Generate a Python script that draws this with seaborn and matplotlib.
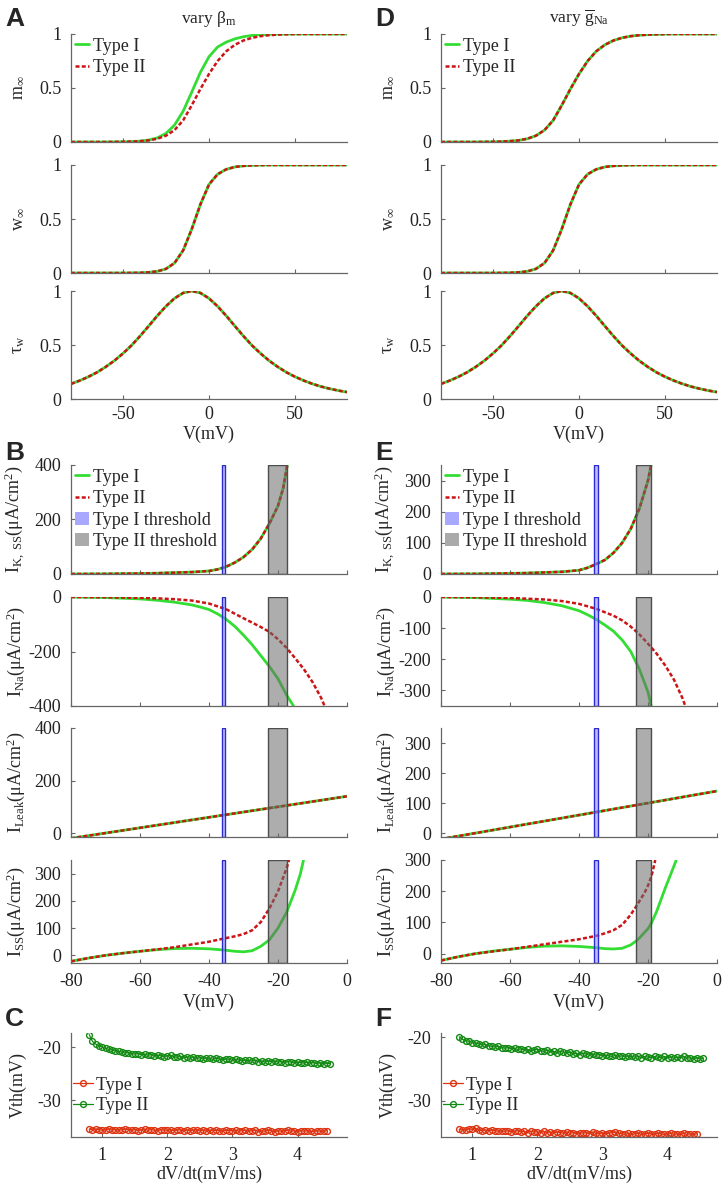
import matplotlib
matplotlib.use('Agg')
import matplotlib.pyplot as plt
from matplotlib.lines import Line2D
from matplotlib.patches import Patch
import seaborn as sns

# ---------------- data ----------------
# A / D : gating curves vs V (mV)
V_A = [-80, -75, -70, -65, -60, -55, -50, -45, -40, -35, -30, -25, -20, -15, -10, -5,
       0, 5, 10, 15, 20, 25, 30, 35, 40, 45, 50, 55, 60, 65, 70, 75, 80]
m_inf_I = [0.000, 0.000, 0.000, 0.000, 0.000, 0.001, 0.002, 0.004, 0.008, 0.018, 0.038, 0.079,
           0.156, 0.285, 0.462, 0.645, 0.790, 0.880, 0.925, 0.955, 0.975, 0.987, 0.994, 0.997,
           0.999, 1.0, 1.0, 1.0, 1.0, 1.0, 1.0, 1.0, 1.0]
m_inf_II = [0.000, 0.000, 0.000, 0.000, 0.000, 0.001, 0.002, 0.004, 0.008, 0.015, 0.030, 0.058,
            0.110, 0.200, 0.340, 0.490, 0.630, 0.750, 0.840, 0.900, 0.940, 0.965, 0.980, 0.989,
            0.994, 0.997, 0.999, 1.0, 1.0, 1.0, 1.0, 1.0, 1.0]
w_inf = [0.000, 0.000, 0.000, 0.000, 0.000, 0.000, 0.000, 0.001, 0.002, 0.006, 0.015, 0.038,
         0.092, 0.209, 0.406, 0.635, 0.820, 0.915, 0.960, 0.982, 0.992, 0.997, 0.999, 1.0,
         1.0, 1.0, 1.0, 1.0, 1.0, 1.0, 1.0, 1.0, 1.0]
tau_w = [0.140, 0.170, 0.205, 0.246, 0.296, 0.353, 0.420, 0.495, 0.582, 0.675, 0.770, 0.858,
         0.932, 0.982, 1.000, 0.982, 0.932, 0.858, 0.770, 0.675, 0.582, 0.495, 0.420, 0.353,
         0.296, 0.246, 0.205, 0.170, 0.140, 0.115, 0.095, 0.078, 0.064]

# B : vary beta_m
V_IK_B = [-80, -70, -60, -55, -50, -45, -40, -37.5, -35, -32.5, -30, -27.5, -25, -22.5, -20, -18.5, -17.3]
IK_B = [0, 0.5, 2, 3, 5, 7, 11, 17, 27, 42, 62, 90, 130, 185, 250, 315, 400]
V_INa_I_B = [-80, -70, -60, -55, -50, -45, -42.5, -40, -37.5, -35, -32.5, -30, -27.5, -25, -22.5, -20, -17.5, -15.5]
INa_I_B = [0, -2, -7, -12, -19, -29, -37, -46, -62, -82, -108, -140, -175, -215, -255, -300, -360, -400]
V_INa_II_B = [-80, -70, -60, -55, -50, -45, -40, -35, -30, -25, -22.5, -20, -17.5, -15, -12.5, -10, -7.5, -6.5]
INa_II_B = [0, -1, -3, -5, -8, -13, -24, -45, -78, -110, -128, -155, -187, -225, -265, -312, -370, -400]
V_leak = [-80, 0]
I_leak = [-20, 140]
V_Iss_I_B = [-80, -75, -70, -65, -60, -55, -50, -45, -40, -36, -32.5, -30, -27.5, -25, -22.5, -20, -17.5, -15, -13.5, -12.6]
Iss_I_B = [-22, -10, 0, 8, 15, 21, 25, 26, 24, 20, 15, 13, 17, 33, 57, 100, 158, 240, 300, 350]
V_Iss_II_B = [-80, -75, -70, -65, -60, -55, -50, -45, -40, -36, -32.5, -30, -27.5, -25, -22.5, -20, -17.5, -16.8]
Iss_II_B = [-22, -10, 0, 8, 15, 22, 30, 40, 50, 61, 70, 78, 92, 122, 172, 235, 320, 350]
thr_I_B = [-36.3, -35.5]
thr_II_B = [-22.9, -17.5]

# E : vary g_Na
V_IK_E = [-80, -70, -60, -55, -50, -45, -40, -37.5, -35, -32.5, -30, -27.5, -25, -22.5, -20, -19.1]
IK_E = [0, 0.5, 2, 3, 5, 7, 12, 20, 32, 45, 68, 100, 145, 210, 300, 350]
V_INa_I_E = [-80, -70, -60, -55, -50, -45, -40, -37.5, -35, -32.5, -30, -27.5, -25, -22.5, -20, -19.1]
INa_I_E = [0, -2, -7, -11, -18, -28, -44, -57, -72, -90, -110, -138, -175, -232, -305, -350]
V_INa_II_E = [-80, -70, -60, -50, -45, -40, -35, -30, -27.5, -25, -22.5, -20, -17.5, -15, -12.5, -10, -9.2]
INa_II_E = [0, -1, -3, -8, -13, -22, -38, -60, -75, -95, -120, -150, -182, -220, -265, -325, -350]
V_Iss_I_E = [-80, -75, -70, -65, -60, -55, -50, -45, -40, -35, -32.5, -30, -27.5, -25, -23.5, -22.5,
             -20, -19, -17.5, -15, -12.5, -11.8]
Iss_I_E = [-22, -10, 0, 8, 14, 20, 24, 25, 23, 19, 16, 15, 17, 28, 40, 50, 80, 98, 135, 210, 280, 300]
V_Iss_II_E = [-80, -75, -70, -65, -60, -55, -50, -45, -40, -35, -32.5, -30, -27.5, -25, -23.5, -22.5,
              -21, -20, -19, -18.4, -17.9]
Iss_II_E = [-22, -10, 0, 7, 14, 22, 30, 38, 46, 57, 65, 75, 92, 125, 150, 168, 195, 218, 248, 275, 300]
thr_I_E = [-35.6, -34.6]
thr_II_E = [-23.4, -19.0]

# C / F : threshold voltage vs dV/dt
dvdt = [0.80, 0.85, 0.90, 0.95, 1.00, 1.05, 1.10, 1.15, 1.20, 1.25, 1.30, 1.35, 1.40, 1.45, 1.50,
        1.55, 1.60, 1.65, 1.70, 1.75, 1.80, 1.85, 1.90, 1.95, 2.00, 2.05, 2.10, 2.15, 2.20, 2.25,
        2.30, 2.35, 2.40, 2.45, 2.50, 2.55, 2.60, 2.65, 2.70, 2.75, 2.80, 2.85, 2.90, 2.95, 3.00,
        3.05, 3.10, 3.15, 3.20, 3.25, 3.30, 3.35, 3.40, 3.45, 3.50, 3.55, 3.60, 3.65, 3.70, 3.75,
        3.80, 3.85, 3.90, 3.95, 4.00, 4.05, 4.10, 4.15, 4.20, 4.25, 4.30, 4.35, 4.40, 4.45, 4.50, 4.55]
vth_II_C = [-17.6, -18.9, -19.4, -19.7, -20.0, -20.2, -20.4, -20.5, -20.7, -20.8, -20.9, -21.1, -21.0,
            -21.2, -21.3, -21.2, -21.4, -21.3, -21.5, -21.4, -21.7, -21.5, -21.6, -21.8, -21.6, -21.5,
            -21.8, -21.9, -21.7, -22.0, -21.9, -22.1, -21.8, -22.1, -22.0, -22.2, -22.0, -22.1, -22.3,
            -22.1, -22.2, -22.4, -22.2, -22.3, -22.5, -22.3, -22.4, -22.6, -22.4, -22.5, -22.6, -22.5,
            -22.7, -22.6, -22.8, -22.6, -22.7, -22.6, -22.8, -22.7, -22.9, -22.7, -22.8, -23.0, -22.8,
            -22.9, -23.0, -22.8, -23.0, -22.9, -23.1, -22.9, -23.1, -23.0, -23.1]
vth_I_C = [-35.5, -35.6, -35.5, -35.6, -35.7, -35.6, -35.5, -35.7, -35.6, -35.6,
           -35.7, -35.5, -35.6, -35.7, -35.6, -35.8, -35.6, -35.5, -35.7, -35.6,
           -35.7, -35.8, -35.6, -35.7, -35.7, -35.6, -35.8, -35.7, -35.6, -35.8,
           -35.7, -35.8, -35.7, -35.6, -35.8, -35.7, -35.9, -35.7, -35.8, -35.7,
           -35.8, -35.9, -35.7, -35.8, -35.8, -35.7, -35.9, -35.8, -35.7, -35.9,
           -35.8, -35.7, -36.0, -35.8, -35.9, -35.7, -35.8, -36.0, -35.8, -35.9,
           -35.8, -35.7, -35.9, -35.8, -36.0, -35.8, -35.9, -35.8, -35.9, -36.0,
           -35.8, -35.9, -35.9, -35.8]
vth_II_F = [-19.9, -20.3, -20.5, -20.6, -20.8, -20.9, -21.0, -21.2, -21.1, -21.3, -21.4, -21.5, -21.4,
            -21.6, -21.7, -21.6, -21.8, -21.7, -21.9, -21.8, -22.0, -21.9, -22.1, -22.0, -21.8, -22.1,
            -22.2, -22.0, -22.3, -22.2, -22.4, -22.2, -22.3, -22.5, -22.3, -22.6, -22.5, -22.7, -22.5,
            -22.6, -22.8, -22.6, -22.8, -22.7, -22.9, -22.8, -22.9, -23.0, -22.8, -23.0, -22.9, -23.1,
            -22.9, -23.0, -23.1, -23.0, -23.2, -23.0, -23.1, -23.2, -23.0, -23.1, -23.2, -23.0, -23.2,
            -23.1, -23.3, -23.1, -23.2, -23.0, -23.3, -23.2, -23.4, -23.2, -23.4, -23.3]
vth_I_F = [-34.5, -34.6, -34.6, -34.4, -34.5, -34.3, -34.6, -34.7, -34.6, -34.7,
           -34.6, -34.7, -34.8, -34.7, -34.8, -34.7, -34.9, -34.8, -34.7, -34.9,
           -34.8, -35.0, -34.8, -34.9, -34.9, -35.0, -34.8, -35.0, -34.9, -35.1,
           -34.9, -35.0, -35.1, -34.9, -35.1, -35.0, -35.2, -35.0, -35.1, -35.0,
           -35.2, -34.9, -35.1, -35.2, -35.0, -35.2, -35.1, -35.0, -34.9, -35.1,
           -35.2, -35.3, -35.1, -35.3, -35.2, -35.1, -35.3, -35.2, -35.1, -35.2,
           -35.3, -35.1, -35.2, -35.3, -35.2, -35.1, -35.3, -35.2, -35.3, -35.1,
           -35.3, -35.2, -35.3, -35.2]

# ---------------- style ----------------
sns.set_theme(style='ticks')
plt.rcParams.update({
    'font.family': ['Liberation Serif', 'DejaVu Serif'],
    'mathtext.fontset': 'custom',
    'mathtext.rm': 'Liberation Serif',
    'mathtext.it': 'Liberation Serif:italic',
    'mathtext.bf': 'Liberation Serif:bold',
    'axes.unicode_minus': False,
    'font.size': 13,
})

GREEN = '#33dd33'
RED = '#cc1414'
RED_M = '#dd3311'
GREEN_M = '#138a13'
SPINE = '#666666'

W, H = 725, 1187
fig = plt.figure(figsize=(W / 100, H / 100), dpi=100)


def add_ax(col, top, bottom):
    left = 71 if col == 0 else 441
    ax = fig.add_axes([left / W, 1 - bottom / H, 276 / W, (bottom - top) / H])
    sns.despine(ax=ax)
    for s in ('left', 'bottom'):
        ax.spines[s].set_color(SPINE)
        ax.spines[s].set_linewidth(0.9)
    ax.tick_params(direction='in', length=3, width=0.8, color=SPINE,
                   labelsize=13, labelcolor='#222222')
    ax.tick_params(axis='x', pad=7)
    ax.tick_params(axis='y', pad=7)
    ax.set_facecolor('white')
    return ax


def yticks(ax, ticks):
    ax.set_yticks(ticks)
    ax.set_yticklabels([('%g' % t) for t in ticks])


def ylab(ax, text):
    ax.set_ylabel(text, fontsize=13)
    ax.yaxis.set_label_coords(-0.16, 0.5)


def draw_I(ax, x, y):
    sns.lineplot(x=x, y=y, ax=ax, color=GREEN, lw=2.0, sort=False)


def draw_II(ax, x, y):
    sns.lineplot(x=x, y=y, ax=ax, color=RED, lw=1.8, linestyle=(0, (1.6, 0.9)), sort=False)


def bands(ax, thr_I, thr_II):
    ax.axvspan(thr_I[0], thr_I[1], facecolor=(0.55, 0.55, 1.0, 0.55),
               edgecolor='#2b2bd0', lw=1.0, zorder=3)
    ax.axvspan(thr_II[0], thr_II[1], facecolor=(0.42, 0.42, 0.42, 0.55),
               edgecolor='#4d4d4d', lw=1.0, zorder=3)


line_handles = [Line2D([], [], color=GREEN, lw=2.0),
                Line2D([], [], color=RED, lw=1.8, linestyle=(0, (1.6, 0.9)))]
band_handles = [Patch(facecolor='#a8a8ff', edgecolor='none'),
                Patch(facecolor='#aaaaaa', edgecolor='none')]
leg_kw = dict(loc='upper left', bbox_to_anchor=(0.0, 1.0), frameon=False, fontsize=13,
              borderaxespad=0.0, borderpad=0.2, handlelength=0.8, handletextpad=0.2,
              labelspacing=0.25, handleheight=0.75)

rows_A = [(34, 142), (165, 273), (291, 399)]
rows_B = [(465, 574), (597, 706), (728, 837), (860, 963)]
row_C = (1033, 1137)

for col in (0, 1):
    # ---- A / D ----
    axs = [add_ax(col, t, b) for t, b in rows_A]
    if col == 0:
        draw_I(axs[0], V_A, m_inf_I)
        draw_II(axs[0], V_A, m_inf_II)
        axs[0].set_title(r'vary $\mathrm{\beta_m}$', fontsize=12.5, pad=8)
    else:
        draw_I(axs[0], V_A, m_inf_II)
        draw_II(axs[0], V_A, m_inf_II)
        axs[0].set_title(r'vary $\overline{\mathrm{g}}_{\mathrm{Na}}$', fontsize=12.5, pad=8)
    draw_I(axs[1], V_A, w_inf)
    draw_II(axs[1], V_A, w_inf)
    draw_I(axs[2], V_A, tau_w)
    draw_II(axs[2], V_A, tau_w)
    for ax, lab in zip(axs, [r'm$_{\infty}$', r'w$_{\infty}$', r'$\mathrm{\tau_w}$']):
        ax.set_xlim(-80, 80)
        ax.set_ylim(0, 1)
        ax.set_xticks([-50, 0, 50])
        yticks(ax, [0, 0.5, 1])
        ylab(ax, lab)
    for ax in axs[:2]:
        ax.set_xticklabels([])
    axs[2].set_xticklabels(['-50', '0', '50'])
    axs[2].tick_params(axis='x', pad=5)
    axs[2].set_xlabel('V(mV)', fontsize=13)
    axs[2].xaxis.set_label_coords(0.5, -0.25)
    axs[0].legend(line_handles, ['Type I', 'Type II'], **leg_kw)

    # ---- B / E ----
    axs = [add_ax(col, t, b) for t, b in rows_B]
    if col == 0:
        draw_I(axs[0], V_IK_B, IK_B)
        draw_II(axs[0], V_IK_B, IK_B)
        draw_I(axs[1], V_INa_I_B, INa_I_B)
        draw_II(axs[1], V_INa_II_B, INa_II_B)
        draw_I(axs[3], V_Iss_I_B, Iss_I_B)
        draw_II(axs[3], V_Iss_II_B, Iss_II_B)
        thr_I, thr_II = thr_I_B, thr_II_B
        lims = [(0, 400), (-400, 0), (-15, 400), (-28, 350)]
        ticks = [[0, 200, 400], [-400, -200, 0], [0, 200, 400], [0, 100, 200, 300]]
    else:
        draw_I(axs[0], V_IK_E, IK_E)
        draw_II(axs[0], V_IK_E, IK_E)
        draw_I(axs[1], V_INa_I_E, INa_I_E)
        draw_II(axs[1], V_INa_II_E, INa_II_E)
        draw_I(axs[3], V_Iss_I_E, Iss_I_E)
        draw_II(axs[3], V_Iss_II_E, Iss_II_E)
        thr_I, thr_II = thr_I_E, thr_II_E
        lims = [(0, 350), (-350, 0), (-13, 350), (-30, 300)]
        ticks = [[0, 100, 200, 300], [-300, -200, -100, 0], [0, 100, 200, 300], [0, 100, 200, 300]]
    draw_I(axs[2], V_leak, I_leak)
    draw_II(axs[2], V_leak, I_leak)
    labs = [r'I$_{\mathrm{K,\ SS}}$(μA/cm$^{2}$)', r'I$_{\mathrm{Na}}$(μA/cm$^{2}$)',
            r'I$_{\mathrm{Leak}}$(μA/cm$^{2}$)', r'I$_{\mathrm{SS}}$(μA/cm$^{2}$)']
    for ax, lim, tk, lab in zip(axs, lims, ticks, labs):
        bands(ax, thr_I, thr_II)
        ax.set_xlim(-80, 0)
        ax.set_ylim(*lim)
        ax.set_xticks([-80, -60, -40, -20, 0])
        yticks(ax, tk)
        ylab(ax, lab)
    for ax in axs[:3]:
        ax.set_xticklabels([])
    axs[3].set_xticklabels(['-80', '-60', '-40', '-20', '0'])
    axs[3].set_xlabel('V(mV)', fontsize=13)
    axs[3].xaxis.set_label_coords(0.5, -0.30)
    axs[0].legend(line_handles + band_handles,
                  ['Type I', 'Type II', 'Type I threshold', 'Type II threshold'], **leg_kw)

    # ---- C / F ----
    ax = add_ax(col, *row_C)
    if col == 0:
        y_I, y_II, n_II = vth_I_C, vth_II_C, 75
        ax.set_ylim(-37.0, -17.3)
    else:
        y_I, y_II, n_II = vth_I_F, vth_II_F, 76
        ax.set_ylim(-35.7, -19.3)
    mk = dict(marker='o', markersize=4.2, markerfacecolor='none', markeredgewidth=1.0, lw=0.9, sort=False)
    sns.lineplot(x=dvdt[:len(y_I)], y=y_I, ax=ax, color=RED_M, markeredgecolor=RED_M, **mk)
    sns.lineplot(x=dvdt[:n_II], y=y_II, ax=ax, color=GREEN_M, markeredgecolor=GREEN_M, **mk)
    ax.set_xlim(0.52, 4.76)
    ax.set_xticks([1, 2, 3, 4])
    ax.set_xticklabels(['1', '2', '3', '4'])
    yticks(ax, [-30, -20])
    ylab(ax, 'Vth(mV)')
    ax.set_xlabel('dV/dt(mV/ms)', fontsize=13)
    ax.xaxis.set_label_coords(0.5, -0.28)
    mh = [Line2D([], [], color=RED_M, lw=0.9, marker='o', markersize=4.2, markerfacecolor='none'),
          Line2D([], [], color=GREEN_M, lw=0.9, marker='o', markersize=4.2, markerfacecolor='none')]
    ax.legend(mh, ['Type I', 'Type II'], loc='center left', bbox_to_anchor=(0.0, 0.40),
              frameon=False, fontsize=13, borderaxespad=0.0, borderpad=0.1,
              handlelength=1.1, handletextpad=0.2, labelspacing=0.2)

# panel letters
for letter, x, y in [('A', 5, 7), ('B', 5, 441), ('C', 5, 1007),
                     ('D', 375, 7), ('E', 375, 441), ('F', 375, 1007)]:
    fig.text(x / W, 1 - y / H, letter, ha='left', va='top', fontsize=19,
             fontweight='bold', family='Liberation Sans')

fig.savefig('out.png', dpi=100, facecolor='white')
